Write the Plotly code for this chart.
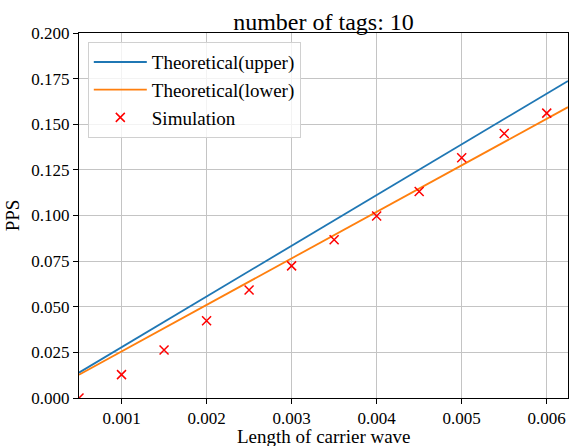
import plotly.graph_objects as go

# Theoretical lines
line_x = [0.0005, 0.001, 0.0015, 0.002, 0.0025, 0.003, 0.0035, 0.004, 0.0045, 0.005, 0.0055, 0.006, 0.00625]
upper_y = [0.0139, 0.0278, 0.0417, 0.0556, 0.0695, 0.0834, 0.0973, 0.1112, 0.1251, 0.139, 0.1529, 0.1668, 0.17375]
lower_y = [0.01275, 0.0255, 0.03825, 0.051, 0.06375, 0.0765, 0.08925, 0.102, 0.11475, 0.1275, 0.14025, 0.153, 0.159375]

# Simulation points
sim_x = [0.0005, 0.001, 0.0015, 0.002, 0.0025, 0.003, 0.0035, 0.004, 0.0045, 0.005, 0.0055, 0.006]
sim_y = [0.0, 0.0128, 0.0263, 0.0423, 0.0592, 0.0724, 0.0867, 0.0997, 0.1131, 0.1316, 0.1449, 0.1561]

x_ticks = [0.001, 0.002, 0.003, 0.004, 0.005, 0.006]
y_ticks = [0.0, 0.025, 0.05, 0.075, 0.1, 0.125, 0.15, 0.175, 0.2]

FONT = "Liberation Serif"

fig = go.Figure()
fig.add_trace(go.Scatter(x=line_x, y=upper_y, mode="lines", name="Theoretical(upper)",
                         line=dict(color="#1f77b4", width=1.8)))
fig.add_trace(go.Scatter(x=line_x, y=lower_y, mode="lines", name="Theoretical(lower)",
                         line=dict(color="#ff7f0e", width=1.8)))
fig.add_trace(go.Scatter(x=sim_x, y=sim_y, mode="markers", name="Simulation",
                         marker=dict(symbol="x-thin", size=9, color="red",
                                     line=dict(color="red", width=1.5))))

axis_common = dict(
    showline=True, linecolor="black", linewidth=1, mirror=True,
    ticks="outside", ticklen=5, tickwidth=1, tickcolor="black",
    showgrid=True, gridcolor="#c4c4c4", gridwidth=1,
    zeroline=False, automargin=False,
    tickfont=dict(family=FONT, size=17, color="black"),
)

fig.update_layout(
    width=569, height=446,
    margin=dict(l=79, r=1, t=33, b=48),
    paper_bgcolor="white", plot_bgcolor="white",
    font=dict(family=FONT, color="black"),
    title=dict(text="number of tags: 10", x=0.5, xref="paper", xanchor="center",
               y=1, yref="paper", yanchor="bottom", pad=dict(b=3),
               font=dict(family=FONT, size=24, color="black")),
    xaxis=dict(range=[0.0005, 0.00625], tickvals=x_ticks, tickformat=".3f",
               **axis_common),
    yaxis=dict(range=[0, 0.2], tickvals=y_ticks, tickformat=".3f",
               title=dict(text="PPS", font=dict(family=FONT, size=19), standoff=6),
               **axis_common),
    legend=dict(x=0.018, y=0.975, xanchor="left", yanchor="top",
                bgcolor="rgba(255,255,255,0.8)", bordercolor="#d0d0d0", borderwidth=1,
                font=dict(family=FONT, size=19, color="black"),
                tracegroupgap=0, itemwidth=53),
    showlegend=True,
    annotations=[dict(text="Length of carrier wave", xref="paper", yref="paper",
                      x=0.5, y=-0.0741, xanchor="center", yanchor="top",
                      showarrow=False, borderpad=0,
                      font=dict(family=FONT, size=19, color="black"))],
)

fig.write_html("out.html", config={"displayModeBar": False},
               post_script="document.body.style.margin='0';")
